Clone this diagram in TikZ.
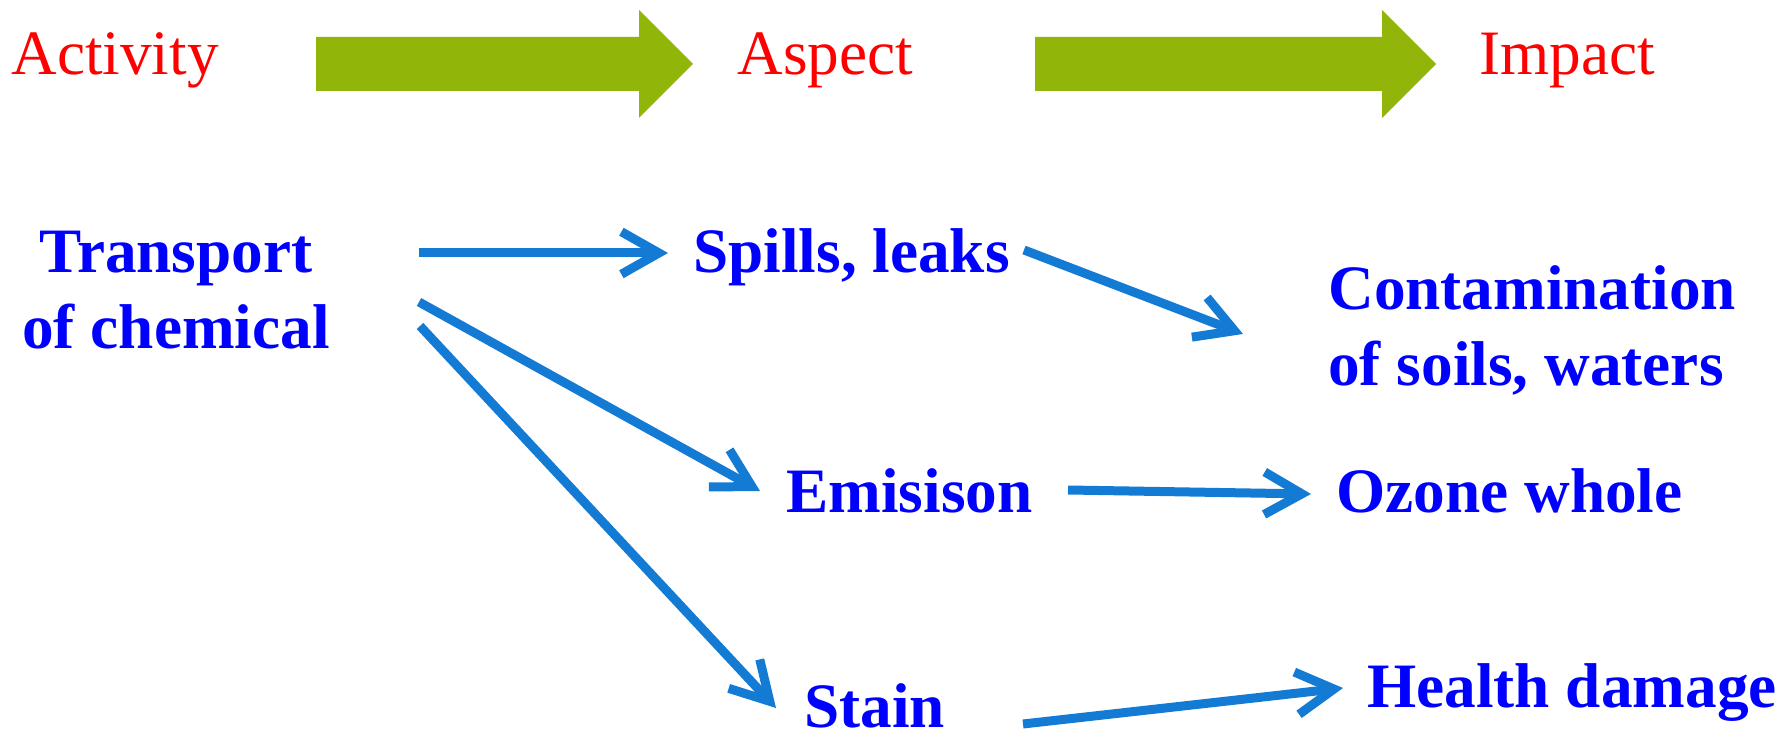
\documentclass[tikz,border=0pt]{standalone}
\usepackage{fontspec}
\setmainfont{Liberation Serif}
\usetikzlibrary{arrows.meta}
\definecolor{flowblue}{RGB}{19,123,212}
\definecolor{stepgreen}{RGB}{146,181,10}
\definecolor{labelblue}{RGB}{0,0,255}
\definecolor{labelred}{RGB}{255,0,0}

\begin{document}
\begin{tikzpicture}[x=0.02cm,y=-0.02cm]
% Styles
\tikzset{
    heading/.style={text=labelred, font=\fontsize{36pt}{43.5pt}\selectfont, inner sep=0pt, anchor=base west},
    item/.style={text=labelblue, font=\fontsize{36pt}{43.5pt}\selectfont\bfseries, inner sep=0pt, anchor=base west},
    flow/.style={draw=flowblue, line width=0.18cm, -{Straight Barb[length=0.75cm,width=0.85cm]}},
    banner/.style={fill=stepgreen}
}
\useasboundingbox (0,0) rectangle (1792,742);

% Headings
\node[heading] (activity) at (11,75) {Activity};
\node[heading] (aspect) at (737,75) {Aspect};
\node[heading] (impact) at (1479,75) {Impact};

% Banner arrows
\fill[banner] (316,37) -- (639,37) -- (639,10) -- (693,64) -- (639,118) -- (639,91) -- (316,91) -- cycle;
\fill[banner] (1035,37) -- (1382,37) -- (1382,10) -- (1436,64) -- (1382,118) -- (1382,91) -- (1035,91) -- cycle;

% Labels (base of a two-line node is its last line)
\node[item, anchor=base, align=center] (transport) at (176,349) {Transport\\of chemical};
\node[item] (spills) at (693,273) {Spills, leaks};
\node[item] (emission) at (786,513) {Emisison};
\node[item] (stain) at (804,727) {Stain};
\node[item, align=left] (contam) at (1328,386) {Contamination\\of soils, waters};
\node[item] (ozone) at (1336,513) {Ozone whole};
\node[item] (health) at (1367,707) {Health damage};

% Arrow ends
\coordinate (transport-1) at (419,253);
\coordinate (transport-2) at (419,302);
\coordinate (transport-3) at (420,326);
\coordinate (spills-in) at (668,253);
\coordinate (spills-out) at (1024,250);
\coordinate (contam-in) at (1243,334);
\coordinate (emission-in) at (760,491);
\coordinate (emission-out) at (1068,490);
\coordinate (ozone-in) at (1311,494);
\coordinate (stain-in) at (776,708);
\coordinate (stain-out) at (1023,724);
\coordinate (health-in) at (1343,688);

\draw[flow] (transport-1) -- (spills-in);
\draw[flow] (transport-2) -- (emission-in);
\draw[flow] (transport-3) -- (stain-in);
\draw[flow] (spills-out) -- (contam-in);
\draw[flow] (emission-out) -- (ozone-in);
\draw[flow] (stain-out) -- (health-in);
\end{tikzpicture}
\end{document}
